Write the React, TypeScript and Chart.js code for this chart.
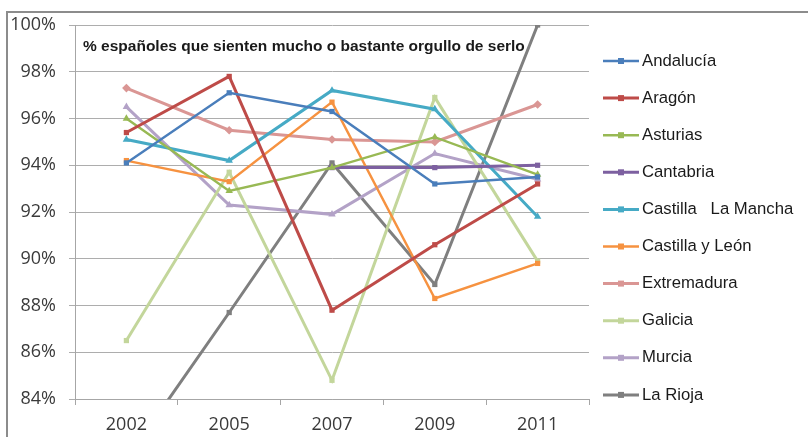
import React, { useEffect, useRef } from "react";
import { Chart, registerables } from "chart.js";

Chart.register(...registerables);

const years = ["2002", "2005", "2007", "2009", "2011"];
const yTicks = [84, 86, 88, 90, 92, 94, 96, 98, 100];
const titleText = "% españoles que sienten mucho o bastante orgullo de serlo";

const andalucia = [94.1, 97.1, 96.3, 93.2, 93.5];
const aragon = [95.4, 97.8, 87.8, 90.6, 93.2];
const asturias = [96.0, 92.9, 93.9, 95.2, 93.6];
const cantabria = [null, null, 93.9, 93.9, 94.0];
const castillaLaMancha = [95.1, 94.2, 97.2, 96.4, 91.8];
const castillaLeon = [94.2, 93.3, 96.7, 88.3, 89.8];
const extremadura = [97.3, 95.5, 95.1, 95.0, 96.6];
const galicia = [86.5, 93.7, 84.8, 96.9, 89.9];
const murcia = [96.5, 92.3, 91.9, 94.5, 93.4];
const laRioja = [81.4, 87.7, 94.1, 88.9, 100];

const seriesNames = [
  "Andalucía",
  "Aragón",
  "Asturias",
  "Cantabria",
  "Castilla   La Mancha",
  "Castilla y León",
  "Extremadura",
  "Galicia",
  "Murcia",
  "La Rioja",
];
const seriesValues = [
  andalucia,
  aragon,
  asturias,
  cantabria,
  castillaLaMancha,
  castillaLeon,
  extremadura,
  galicia,
  murcia,
  laRioja,
];
const seriesColors = [
  "#4A7EBB",
  "#BE4B48",
  "#98B954",
  "#7D60A0",
  "#46AAC5",
  "#F69240",
  "#DA9694",
  "#C3D69B",
  "#B3A2C7",
  "#7F7F7F",
];
const seriesMarkers = [
  "rect",
  "rect",
  "triangle",
  "rect",
  "triangle",
  "rect",
  "rectRot",
  "rect",
  "triangle",
  "rect",
];
const seriesWidths = [2.4, 3, 2.4, 3, 3, 2.4, 3, 3, 3, 3];

const decorPlugin = {
  id: "decor",
  beforeDraw(chart: any) {
    const ctx = chart.ctx;
    ctx.save();
    ctx.fillStyle = "#ffffff";
    ctx.fillRect(0, 0, chart.width, chart.height);
    ctx.strokeStyle = "#8C8C8C";
    ctx.lineWidth = 2;
    ctx.beginPath();
    ctx.moveTo(7, chart.height);
    ctx.lineTo(7, 12);
    ctx.lineTo(chart.width, 12);
    ctx.stroke();
    ctx.restore();
  },
  afterDraw(chart: any) {
    const ctx = chart.ctx;
    ctx.save();
    // title inside plot
    ctx.fillStyle = "#1a1a1a";
    ctx.font = "bold 15.5px 'Liberation Sans Narrow', 'Arial Narrow', sans-serif";
    ctx.textBaseline = "middle";
    ctx.textAlign = "left";
    ctx.fillText(titleText, 83, 47);
    // legend
    const x0 = 603;
    const x1 = 639;
    const yStart = 61;
    const step = 37.1;
    chart.data.datasets.forEach((ds: any, i: number) => {
      const y = yStart + i * step;
      ctx.strokeStyle = ds.borderColor;
      ctx.lineWidth = ds.borderWidth;
      ctx.beginPath();
      ctx.moveTo(x0, y);
      ctx.lineTo(x1, y);
      ctx.stroke();
      ctx.fillStyle = ds.borderColor;
      const s = 3;
      ctx.fillRect((x0 + x1) / 2 - s, y - s, 2 * s, 2 * s);
      ctx.fillStyle = "#1a1a1a";
      ctx.font = "16.7px 'Liberation Sans Narrow', 'Arial Narrow', sans-serif";
      ctx.fillText(ds.label, x1 + 3, y);
    });
    ctx.restore();
  },
};

export default function App() {
  const ref = useRef<HTMLCanvasElement | null>(null);
  useEffect(() => {
    if (!ref.current) return;
    const chart = new Chart(ref.current, {
      type: "line",
      data: {
        labels: years,
        datasets: seriesNames.map((name, i) => ({
          label: name,
          data: seriesValues[i],
          borderColor: seriesColors[i],
          backgroundColor: seriesColors[i],
          borderWidth: seriesWidths[i],
          pointStyle: seriesMarkers[i] as any,
          pointRadius: seriesMarkers[i] === "rect" ? 3.7 : 4.3,
          pointBorderWidth: 0,
          pointBackgroundColor: seriesColors[i],
          tension: 0,
          spanGaps: false,
        })),
      },
      options: {
        animation: false,
        responsive: false,
        maintainAspectRatio: false,
        layout: { padding: { left: 0, right: 219, top: 25, bottom: 0 } },
        plugins: {
          legend: { display: false },
          title: { display: false },
          tooltip: { enabled: false },
        },
        scales: {
          x: {
            type: "category",
            offset: true,
            grid: {
              offset: true,
              drawOnChartArea: false,
              drawTicks: true,
              tickLength: 6,
              color: "#A6A6A6",
            },
            border: { display: true, color: "#A6A6A6", width: 1 },
            ticks: {
              color: "#3a3a3a",
              font: { family: "'Open Sans', sans-serif", size: 18 },
              padding: 9,
              maxRotation: 0,
            },
            afterFit: (s: any) => {
              s.height = 38;
            },
          },
          y: {
            min: 84,
            max: 100,
            afterBuildTicks: (s: any) => {
              s.ticks = yTicks.map((v) => ({ value: v }));
            },
            grid: {
              color: "#ADADAD",
              lineWidth: 1,
              drawTicks: true,
              tickLength: 6,
            },
            border: { display: true, color: "#A6A6A6", width: 1 },
            ticks: {
              color: "#3a3a3a",
              font: { family: "'Open Sans', sans-serif", size: 18 },
              padding: 13,
              callback: (v: any) => v + "%",
            },
            afterFit: (s: any) => {
              s.width = 75;
            },
          },
        },
      },
      plugins: [decorPlugin],
    });
    return () => chart.destroy();
  }, []);
  return (
    <div style={{ position: "fixed", left: 0, top: 0, width: 808, height: 437 }}>
      <canvas ref={ref} width={808} height={437} style={{ display: "block", width: 808, height: 437 }} />
    </div>
  );
}
